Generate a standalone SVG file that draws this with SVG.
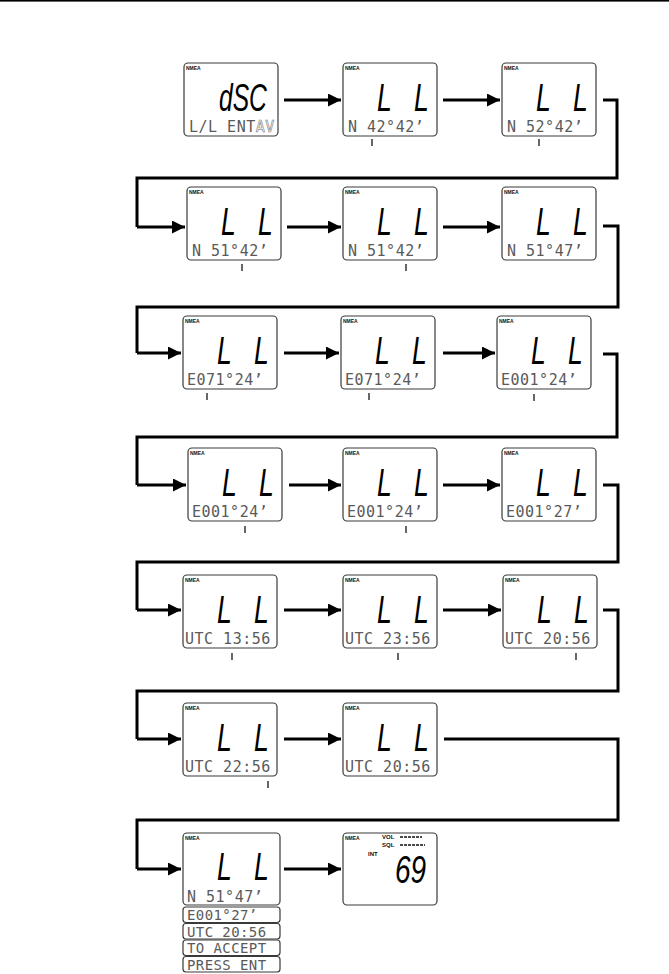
<svg xmlns="http://www.w3.org/2000/svg" width="669" height="974" viewBox="0 0 669 974">
<style>
.box{fill:#fff;stroke:#3a3a3a;stroke-width:1.2}
.nmea{font-family:"Liberation Sans",sans-serif;font-size:5px;font-weight:bold;fill:#111}
.seg{font-family:"Liberation Sans",sans-serif;font-style:italic;font-size:28px;fill:#000}
.lcd{font-family:"DejaVu Sans Mono",monospace;font-size:15px;letter-spacing:0.5px;fill:#5a5a5a}
.lcds{font-family:"DejaVu Sans Mono",monospace;font-size:14px;letter-spacing:0.4px;fill:#5a5a5a}
.av{fill:#fff;stroke:#777;stroke-width:0.6}
.tick{stroke:#000;stroke-width:1.2}
.con{fill:none;stroke:#000;stroke-width:3}
.arr{fill:none;stroke:#000;stroke-width:3;marker-end:url(#ah)}
.lab{font-family:"Liberation Sans",sans-serif;font-size:6px;font-weight:bold;fill:#111}
.dash{stroke:#111;stroke-width:1.6;stroke-dasharray:3 1}
</style>
<defs>
<marker id="ah" markerUnits="userSpaceOnUse" markerWidth="14" markerHeight="14" refX="13" refY="6.5" orient="auto">
<path d="M0,0 L13,6.5 L0,13 z" fill="#000"/>
</marker>
</defs>
<rect x="0" y="0" width="669" height="1.6" fill="#000"/>

<g id="connectors">
<line class="arr" x1="284" y1="100" x2="341" y2="100"/>
<line class="arr" x1="443" y1="100" x2="500" y2="100"/>
<path class="con" d="M603,100 H617 V178 H137 V227"/>
<line class="arr" x1="137" y1="227" x2="185" y2="227"/>
<line class="arr" x1="287" y1="227" x2="341" y2="227"/>
<line class="arr" x1="443" y1="227" x2="500" y2="227"/>
<path class="con" d="M603,226 H618 V307 H137 V353"/>
<line class="arr" x1="137" y1="353" x2="181" y2="353"/>
<line class="arr" x1="284" y1="353" x2="339" y2="353"/>
<line class="arr" x1="443" y1="353" x2="495" y2="353"/>
<path class="con" d="M603,354 H617 V437 H137 V485"/>
<line class="arr" x1="137" y1="485" x2="186" y2="485"/>
<line class="arr" x1="289" y1="485" x2="341" y2="485"/>
<line class="arr" x1="443" y1="485" x2="500" y2="485"/>
<path class="con" d="M603,485 H618 V562 H137 V610"/>
<line class="arr" x1="137" y1="610" x2="181" y2="610"/>
<line class="arr" x1="284" y1="610" x2="341" y2="610"/>
<line class="arr" x1="443" y1="610" x2="501" y2="610"/>
<path class="con" d="M603,610 H618 V691 H137 V739"/>
<line class="arr" x1="137" y1="739" x2="181" y2="739"/>
<line class="arr" x1="284" y1="739" x2="341" y2="739"/>
<path class="con" d="M444,739 H618 V820 H137 V869"/>
<line class="arr" x1="137" y1="869" x2="181" y2="869"/>
<line class="arr" x1="284" y1="869" x2="341" y2="869"/>
</g>

<!-- Row 1 -->
<g id="n1-1">
<rect class="box" x="184" y="63" width="94" height="73" rx="4"/>
<text class="nmea" x="186" y="70">NMEA</text>
<text class="seg" transform="translate(219,111) scale(0.88,1.4)">dSC</text>
<text class="lcd" x="189" y="132">L/L ENT<tspan class="av">AV</tspan></text>
</g>
<g id="n1-2">
<rect class="box" x="343" y="63" width="94" height="73" rx="4"/>
<text class="nmea" x="345" y="70">NMEA</text>
<text class="seg" transform="translate(377,111) scale(0.95,1.4)">L</text>
<text class="seg" transform="translate(414,111) scale(0.95,1.4)">L</text>
<text class="lcd" x="348" y="132">N 42°42’</text>
<line class="tick" x1="372" y1="139" x2="372" y2="146"/>
</g>
<g id="n1-3">
<rect class="box" x="502" y="63" width="94" height="73" rx="4"/>
<text class="nmea" x="504" y="70">NMEA</text>
<text class="seg" transform="translate(536,111) scale(0.95,1.4)">L</text>
<text class="seg" transform="translate(573,111) scale(0.95,1.4)">L</text>
<text class="lcd" x="507" y="132">N 52°42’</text>
<line class="tick" x1="539" y1="139" x2="539" y2="146"/>
</g>

<!-- Row 2 -->
<g id="n2-1">
<rect class="box" x="187" y="187" width="94" height="73" rx="4"/>
<text class="nmea" x="189" y="194">NMEA</text>
<text class="seg" transform="translate(221,235) scale(0.95,1.4)">L</text>
<text class="seg" transform="translate(258,235) scale(0.95,1.4)">L</text>
<text class="lcd" x="192" y="256">N 51°42’</text>
<line class="tick" x1="242" y1="264" x2="242" y2="271"/>
</g>
<g id="n2-2">
<rect class="box" x="343" y="187" width="94" height="73" rx="4"/>
<text class="nmea" x="345" y="194">NMEA</text>
<text class="seg" transform="translate(377,235) scale(0.95,1.4)">L</text>
<text class="seg" transform="translate(414,235) scale(0.95,1.4)">L</text>
<text class="lcd" x="348" y="256">N 51°42’</text>
<line class="tick" x1="406" y1="264" x2="406" y2="271"/>
</g>
<g id="n2-3">
<rect class="box" x="502" y="187" width="94" height="73" rx="4"/>
<text class="nmea" x="504" y="194">NMEA</text>
<text class="seg" transform="translate(536,235) scale(0.95,1.4)">L</text>
<text class="seg" transform="translate(573,235) scale(0.95,1.4)">L</text>
<text class="lcd" x="507" y="256">N 51°47’</text>
</g>

<!-- Row 3 -->
<g id="n3-1">
<rect class="box" x="183" y="316" width="94" height="73" rx="4"/>
<text class="nmea" x="185" y="323">NMEA</text>
<text class="seg" transform="translate(217,364) scale(0.95,1.4)">L</text>
<text class="seg" transform="translate(254,364) scale(0.95,1.4)">L</text>
<text class="lcd" x="187" y="385">E071°24’</text>
<line class="tick" x1="207" y1="393" x2="207" y2="400"/>
</g>
<g id="n3-2">
<rect class="box" x="341" y="316" width="94" height="73" rx="4"/>
<text class="nmea" x="343" y="323">NMEA</text>
<text class="seg" transform="translate(375,364) scale(0.95,1.4)">L</text>
<text class="seg" transform="translate(412,364) scale(0.95,1.4)">L</text>
<text class="lcd" x="345" y="385">E071°24’</text>
<line class="tick" x1="369" y1="393" x2="369" y2="400"/>
</g>
<g id="n3-3">
<rect class="box" x="497" y="316" width="94" height="73" rx="4"/>
<text class="nmea" x="499" y="323">NMEA</text>
<text class="seg" transform="translate(531,364) scale(0.95,1.4)">L</text>
<text class="seg" transform="translate(568,364) scale(0.95,1.4)">L</text>
<text class="lcd" x="501" y="385">E001°24’</text>
<line class="tick" x1="534" y1="394" x2="534" y2="401"/>
</g>

<!-- Row 4 -->
<g id="n4-1">
<rect class="box" x="188" y="448" width="94" height="73" rx="4"/>
<text class="nmea" x="190" y="455">NMEA</text>
<text class="seg" transform="translate(222,496) scale(0.95,1.4)">L</text>
<text class="seg" transform="translate(259,496) scale(0.95,1.4)">L</text>
<text class="lcd" x="192" y="517">E001°24’</text>
<line class="tick" x1="245" y1="526" x2="245" y2="533"/>
</g>
<g id="n4-2">
<rect class="box" x="343" y="448" width="94" height="73" rx="4"/>
<text class="nmea" x="345" y="455">NMEA</text>
<text class="seg" transform="translate(377,496) scale(0.95,1.4)">L</text>
<text class="seg" transform="translate(414,496) scale(0.95,1.4)">L</text>
<text class="lcd" x="347" y="517">E001°24’</text>
<line class="tick" x1="406" y1="526" x2="406" y2="533"/>
</g>
<g id="n4-3">
<rect class="box" x="502" y="448" width="94" height="73" rx="4"/>
<text class="nmea" x="504" y="455">NMEA</text>
<text class="seg" transform="translate(536,496) scale(0.95,1.4)">L</text>
<text class="seg" transform="translate(573,496) scale(0.95,1.4)">L</text>
<text class="lcd" x="506" y="517">E001°27’</text>
</g>

<!-- Row 5 -->
<g id="n5-1">
<rect class="box" x="183" y="575" width="94" height="73" rx="4"/>
<text class="nmea" x="185" y="582">NMEA</text>
<text class="seg" transform="translate(217,623) scale(0.95,1.4)">L</text>
<text class="seg" transform="translate(254,623) scale(0.95,1.4)">L</text>
<text class="lcd" x="185" y="644">UTC 13:56</text>
<line class="tick" x1="232" y1="653" x2="232" y2="660"/>
</g>
<g id="n5-2">
<rect class="box" x="343" y="575" width="94" height="73" rx="4"/>
<text class="nmea" x="345" y="582">NMEA</text>
<text class="seg" transform="translate(377,623) scale(0.95,1.4)">L</text>
<text class="seg" transform="translate(414,623) scale(0.95,1.4)">L</text>
<text class="lcd" x="345" y="644">UTC 23:56</text>
<line class="tick" x1="398" y1="653" x2="398" y2="660"/>
</g>
<g id="n5-3">
<rect class="box" x="503" y="575" width="94" height="73" rx="4"/>
<text class="nmea" x="505" y="582">NMEA</text>
<text class="seg" transform="translate(537,623) scale(0.95,1.4)">L</text>
<text class="seg" transform="translate(574,623) scale(0.95,1.4)">L</text>
<text class="lcd" x="505" y="644">UTC 20:56</text>
<line class="tick" x1="576" y1="653" x2="576" y2="660"/>
</g>

<!-- Row 6 -->
<g id="n6-1">
<rect class="box" x="183" y="703" width="94" height="73" rx="4"/>
<text class="nmea" x="185" y="710">NMEA</text>
<text class="seg" transform="translate(217,751) scale(0.95,1.4)">L</text>
<text class="seg" transform="translate(254,751) scale(0.95,1.4)">L</text>
<text class="lcd" x="185" y="772">UTC 22:56</text>
<line class="tick" x1="268" y1="781" x2="268" y2="788"/>
</g>
<g id="n6-2">
<rect class="box" x="343" y="703" width="94" height="73" rx="4"/>
<text class="nmea" x="345" y="710">NMEA</text>
<text class="seg" transform="translate(377,751) scale(0.95,1.4)">L</text>
<text class="seg" transform="translate(414,751) scale(0.95,1.4)">L</text>
<text class="lcd" x="345" y="772">UTC 20:56</text>
</g>

<!-- Row 7 -->
<g id="n7-1">
<rect class="box" x="183" y="833" width="97" height="72" rx="4"/>
<text class="nmea" x="185" y="840">NMEA</text>
<text class="seg" transform="translate(217,880) scale(0.95,1.4)">L</text>
<text class="seg" transform="translate(254,880) scale(0.95,1.4)">L</text>
<text class="lcd" x="187" y="902">N 51°47’</text>
<rect class="box" x="183" y="907" width="97" height="15.5" rx="3"/>
<text class="lcds" x="187" y="920">E001°27’</text>
<rect class="box" x="183" y="923.5" width="97" height="15.5" rx="3"/>
<text class="lcds" x="187" y="936.5">UTC 20:56</text>
<rect class="box" x="183" y="940" width="97" height="15.5" rx="3"/>
<text class="lcds" x="187" y="953">TO ACCEPT</text>
<rect class="box" x="183" y="956.5" width="97" height="15.5" rx="3"/>
<text class="lcds" x="187" y="969.5">PRESS ENT</text>
</g>
<g id="n7-2">
<rect class="box" x="343" y="833" width="94" height="72" rx="4"/>
<text class="nmea" x="345" y="840">NMEA</text>
<text class="lab" x="382" y="839">VOL</text>
<line class="dash" x1="400" y1="837" x2="422" y2="837"/>
<text class="lab" x="382" y="847">SQL</text>
<line class="dash" x1="400" y1="845" x2="425" y2="845"/>
<text class="lab" x="368" y="856">INT</text>
<text class="seg" transform="translate(395,883) scale(1,1.4)">69</text>
</g>
</svg>
